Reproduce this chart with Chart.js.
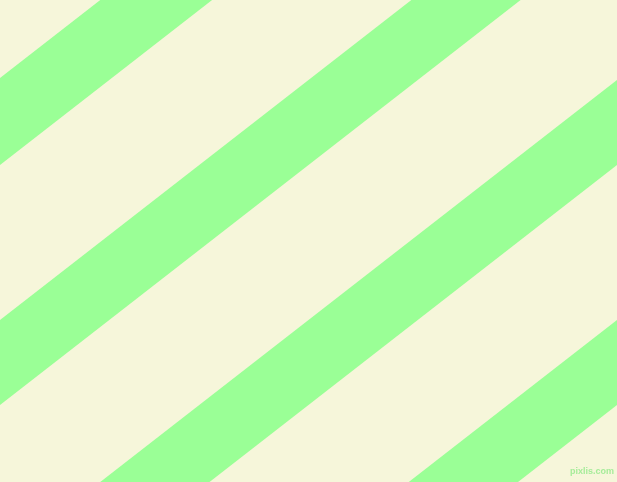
<!DOCTYPE html>
<html>
<head>
<meta charset="utf-8">
<script src="https://cdn.jsdelivr.net/npm/chart.js@4"></script>
<style>
  html, body { margin: 0; padding: 0; background: #f6f6da; }
  #wrap { position: relative; width: 617px; height: 482px; }
</style>
</head>
<body>
<div id="wrap"><canvas id="grafico" width="617" height="482"></canvas></div>
<script>
// x range of the picture
var xEnds = [0, 617];
// each stripe edge: y where it meets the left side and the right side
var upperLeft  = [78, 320, 560, 800];
var upperRight = [-402, -160, 80, 320];
var lowerLeft  = [165, 405, 645, 885];
var lowerRight = [-315, -75, 165, 405];

var fundo = '#f6f6da';
var faixa = '#9aff96';

var datasets = [];
for (var i = 0; i < upperLeft.length; i++) {
    datasets.push({
        data: [{x: xEnds[0], y: upperLeft[i]}, {x: xEnds[1], y: upperRight[i]}],
        borderWidth: 0,
        pointRadius: 0,
        backgroundColor: faixa,
        fill: '+1'
    });
    datasets.push({
        data: [{x: xEnds[0], y: lowerLeft[i]}, {x: xEnds[1], y: lowerRight[i]}],
        borderWidth: 0,
        pointRadius: 0,
        fill: false
    });
}

var marcaDagua = {
    id: 'marcaDagua',
    beforeDraw: function(chart) {
        var ctx = chart.ctx;
        ctx.save();
        ctx.fillStyle = fundo;
        ctx.fillRect(0, 0, chart.width, chart.height);
        ctx.restore();
    },
    afterDraw: function(chart) {
        var ctx = chart.ctx;
        ctx.save();
        ctx.font = 'bold 9px "Liberation Sans"';
        ctx.fillStyle = '#a6ec9a';
        ctx.textAlign = 'right';
        ctx.textBaseline = 'alphabetic';
        ctx.fillText('pixlis.com', 614, 474);
        ctx.restore();
    }
};

new Chart(document.getElementById('grafico').getContext('2d'), {
    type: 'line',
    data: { datasets: datasets },
    options: {
        responsive: false,
        animation: false,
        layout: { padding: 0 },
        plugins: { legend: { display: false }, tooltip: { enabled: false } },
        scales: {
            x: { type: 'linear', min: 0, max: 617, display: false },
            y: { type: 'linear', min: 0, max: 482, reverse: true, display: false }
        }
    },
    plugins: [marcaDagua]
});
</script>
</body>
</html>
